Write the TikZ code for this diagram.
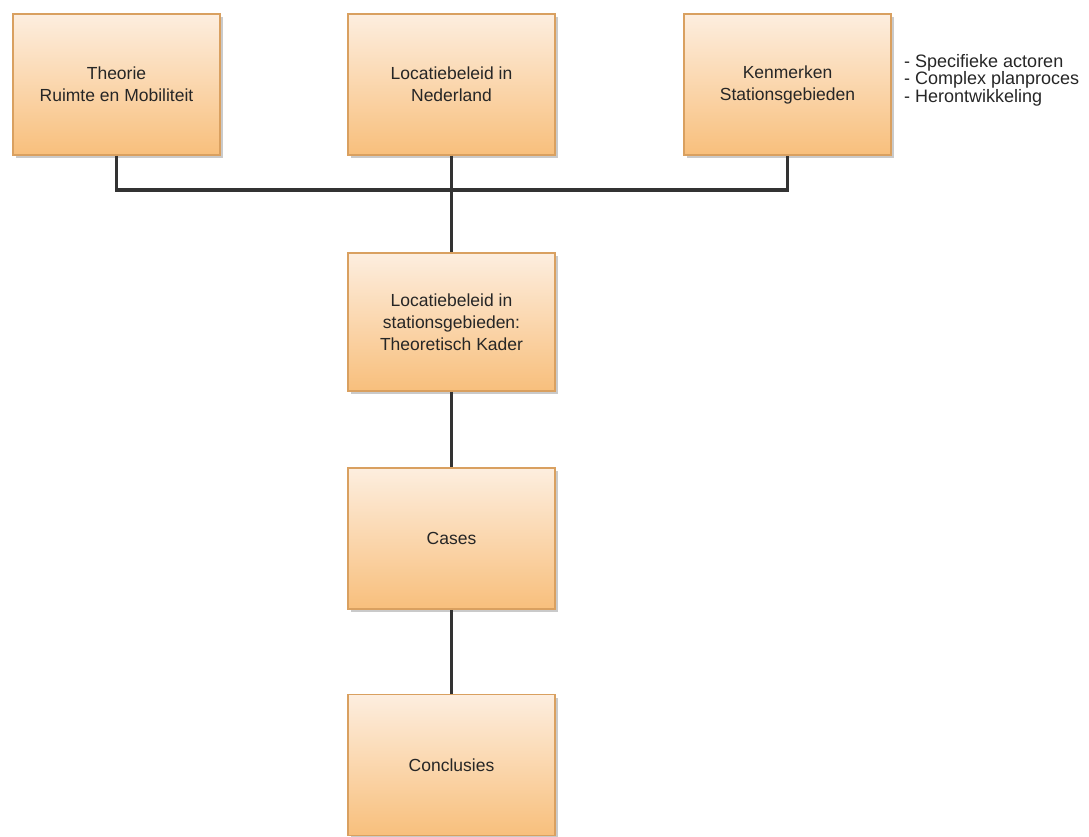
\documentclass[tikz,border=0pt]{standalone}
\usepackage{fontspec}
\setmainfont{Liberation Sans}
\usetikzlibrary{shadows}
\definecolor{boxtop}{HTML}{FDEEDF}
\definecolor{boxbot}{HTML}{F8BF7C}
\definecolor{boxline}{HTML}{D9A060}
\definecolor{linecol}{HTML}{333333}
\tikzset{
  stepbox/.style={rectangle, draw=boxline, line width=1.5pt, top color=boxtop, bottom color=boxbot,
    minimum width=207pt, minimum height=141pt, inner sep=0pt, align=center,
    font=\fontsize{17.5}{22}\selectfont, text=black!85,
    drop shadow={shadow xshift=3pt, shadow yshift=-3pt, fill=black!35, opacity=0.6}},
  conn/.style={draw=linecol, line width=3.5pt}
}
\begin{document}
\begin{tikzpicture}[x=1pt,y=-1pt]
\useasboundingbox (0,0) rectangle (1089,837);
\node[stepbox] (b1) at (116.5,84.5) {Theorie\\Ruimte en Mobiliteit};
\node[stepbox] (b2) at (451.5,84.5) {Locatiebeleid in\\Nederland};
\node[stepbox] (b3) at (787.5,84.5) {Kenmerken\\Stationsgebieden};
\node[stepbox, minimum height=138pt] (b4) at (451.5,322) {Locatiebeleid in\\stationsgebieden:\\Theoretisch Kader};
\node[stepbox] (b5) at (451.5,538.5) {Cases};
\node[stepbox] (b6) at (451.5,765) {Conclusies};
\node[anchor=west, align=left, inner sep=0pt, font=\fontsize{18}{17.5}\selectfont, text=black!85] (list) at (904,80)
  {- Specifieke actoren\\- Complex planproces\\- Herontwikkeling};
\coordinate (j) at (451.5,190);
\draw[conn] (b1.south) |- (j) -| (b3.south);
\draw[conn] (b2.south) -- (b4.north);
\draw[conn] (b4.south) -- (b5.north);
\draw[conn] (b5.south) -- (b6.north);
\end{tikzpicture}
\end{document}
